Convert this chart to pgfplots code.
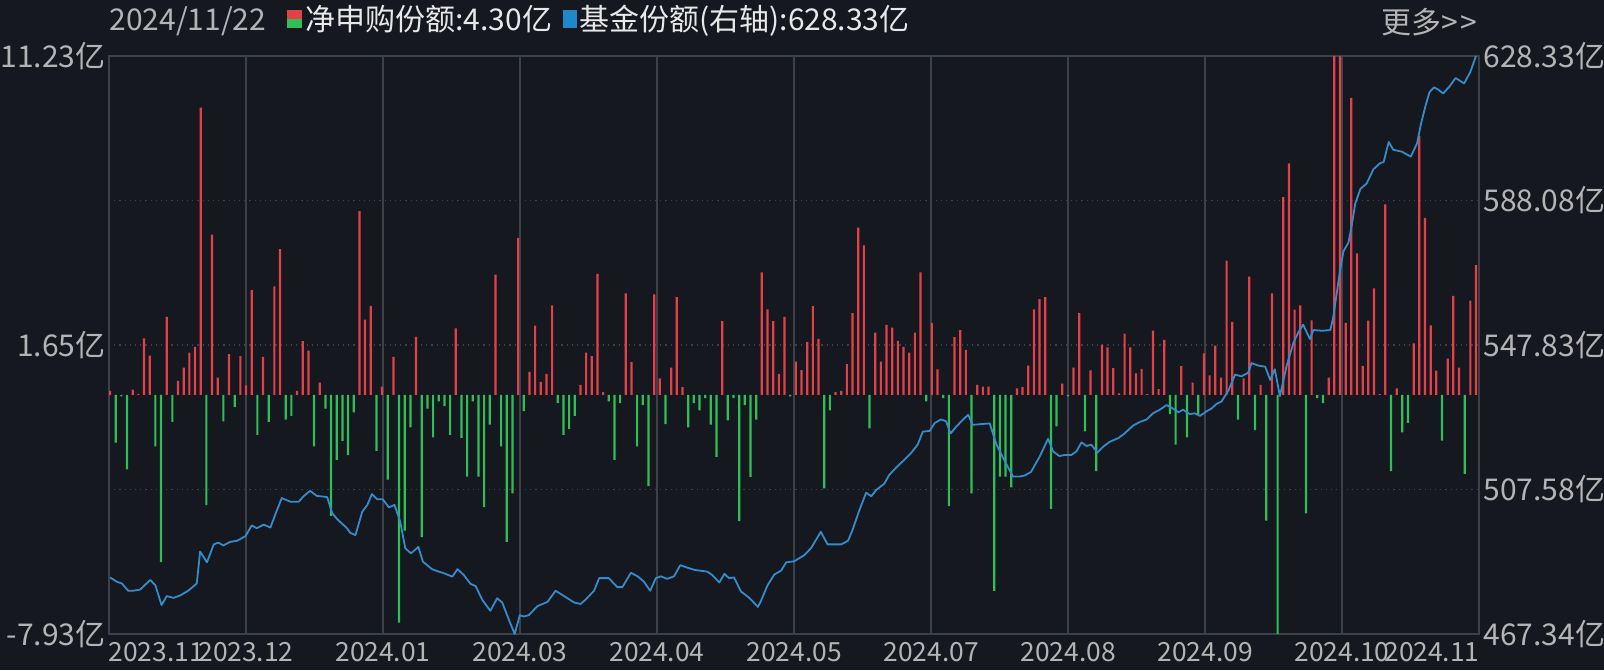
\documentclass[border=0pt]{standalone}
\usepackage{fontspec}
\setmainfont{Noto Sans CJK SC}
\usepackage{pgfplots}
\pgfplotsset{compat=1.18}

\definecolor{bg}{RGB}{21,24,30}
\definecolor{gridc}{RGB}{60,64,72}
\definecolor{upred}{RGB}{228,64,74}
\definecolor{dngreen}{RGB}{48,190,88}
\definecolor{lineblue}{RGB}{52,140,205}
\definecolor{legblue}{RGB}{30,136,205}
\definecolor{lbl}{RGB}{180,180,180}
\definecolor{ttl}{RGB}{232,232,232}

\newcommand\lblfont{\fontsize{15}{18}\selectfont}
\newcommand\datefont{\fontsize{13.2}{16}\selectfont}

\pgfplotsset{
  common/.style={
    scale only axis, width=685pt, height=289pt,
    at={(54.5pt,18pt)}, anchor=south west,
    xmin=-0.18, xmax=241.53,
    major tick length=0pt,
    yticklabel style={font=\lblfont},
  }
}

\begin{document}
\begin{tikzpicture}[x=1pt,y=1pt]
\fill[bg] (0,0) rectangle (802,335);
\useasboundingbox (0,0) rectangle (802,335);

% net subscription bars (left axis)
\begin{axis}[common,
  ymin=-7.93, ymax=11.23,
  axis line style={gridc, line width=0.6pt},
  xtick={23.99,48.16,72.33,96.50,120.68,144.85,169.02,193.19,217.36},
  xticklabels={2023.12,2024.01,2024.03,2024.04,2024.05,2024.07,2024.08,2024.09,2024.10},
  xticklabel style={text=lbl, anchor=north, inner sep=0pt, yshift=-4pt, font=\datefont},
  ytick={-7.93,-3.14,1.65,6.44,11.23},
  yticklabels={-7.93亿,{},1.65亿,{},11.23亿},
  yticklabel style={text=lbl, anchor=east, inner sep=0pt, xshift=-1.5pt},
  xmajorgrids, ymajorgrids,
  major x grid style={gridc, line width=0.6pt},
  major y grid style={gridc, line width=0.6pt, dotted},
]
\addplot[ybar, bar width=1.1pt, bar shift=0pt, fill=upred, draw=none] coordinates {
(0,0.13) (4,0.17) (5,0.03) (6,1.87) (7,1.30) (10,2.58) (12,0.46) (13,0.90)
(14,1.40) (15,1.59) (16,9.52) (18,5.31) (19,0.57) (21,1.35) (23,1.28) (24,0.31)
(25,3.48) (27,1.26) (29,3.59) (30,4.83) (33,0.13) (34,1.78) (35,1.46) (37,0.40)
(44,6.09) (45,2.49) (46,2.95) (48,0.27) (50,1.26) (54,1.92) (61,2.20) (68,3.98)
(72,5.20) (74,0.76) (75,2.29) (76,0.43) (77,0.69) (78,2.96) (83,0.33) (84,1.40)
(85,1.28) (86,4.01) (87,0.09) (91,3.36) (92,1.08) (96,3.33) (97,0.54) (99,0.90)
(100,3.24) (101,0.25) (108,2.44) (115,4.06) (116,2.83) (117,2.44) (118,0.69) (119,2.58)
(121,1.10) (122,0.82) (123,1.75) (124,2.94) (125,1.85) (128,0.09) (129,0.13) (130,1.02)
(131,2.71) (132,5.54) (133,4.95) (135,2.06) (136,1.10) (137,2.32) (138,2.23) (139,1.79)
(140,1.59) (141,1.40) (142,2.06) (143,4.06) (145,2.38) (146,0.84) (149,1.91) (150,2.14)
(151,1.49) (153,0.33) (154,0.27) (155,0.27) (160,0.21) (161,0.25) (162,0.97) (163,2.83)
(164,3.17) (165,3.24) (168,0.37) (170,0.90) (171,2.71) (173,0.81) (175,1.66) (176,1.57)
(177,0.88) (178,0.05) (179,2.03) (180,1.57) (181,0.71) (182,0.86) (183,0.02) (184,2.13)
(185,0.19) (186,1.82) (189,0.95) (191,0.40) (193,1.37) (194,0.64) (195,1.63) (196,0.57)
(197,4.45) (198,2.42) (200,0.54) (201,3.92) (203,0.33) (205,3.36) (207,6.55) (208,7.67)
(209,2.82) (210,2.96) (212,2.47) (215,0.57) (216,11.23) (217,11.23) (218,2.38) (219,9.84)
(220,4.69) (221,0.96) (222,2.46) (223,3.53) (224,0.02) (225,6.31) (227,0.21) (230,1.70)
(231,8.58) (232,5.86) (233,2.30) (234,0.80) (236,1.20) (237,3.28) (238,0.90) (240,3.12)
(241,4.30)
};
\addplot[ybar, bar width=1.1pt, bar shift=0pt, fill=dngreen, draw=none] coordinates {
(1,-1.59) (2,-0.05) (3,-2.47) (8,-1.71) (9,-5.55) (11,-0.90) (17,-3.66) (20,-0.88)
(22,-0.40) (26,-1.33) (28,-0.90) (31,-0.82) (32,-0.70) (36,-1.71) (38,-0.46) (39,-4.01)
(40,-2.16) (41,-1.53) (42,-2.00) (43,-0.58) (47,-1.86) (49,-2.81) (51,-7.55) (52,-4.50)
(53,-1.08) (55,-4.72) (56,-0.46) (57,-1.41) (58,-0.22) (59,-0.38) (60,-1.33) (62,-1.43)
(63,-2.71) (64,-0.22) (65,-2.71) (66,-3.72) (67,-0.99) (69,-1.71) (70,-4.88) (71,-3.27)
(73,-0.54) (79,-0.28) (80,-1.33) (81,-1.14) (82,-0.70) (88,-0.22) (89,-2.16) (90,-0.28)
(93,-1.71) (94,-0.34) (95,-3.03) (98,-0.97) (102,-1.08) (103,-0.28) (104,-0.52) (105,-0.11)
(106,-0.99) (107,-2.06) (109,-0.85) (110,-0.11) (111,-4.19) (112,-0.34) (113,-2.72) (114,-0.82)
(120,-0.05) (126,-3.10) (127,-0.52) (134,-1.11) (144,-0.22) (147,-0.11) (148,-3.69) (152,-3.27)
(156,-6.50) (157,-2.71) (158,-2.71) (159,-3.07) (166,-3.78) (167,-1.05) (169,-0.05) (172,-1.21)
(174,-2.53) (187,-0.64) (188,-1.65) (190,-1.41) (192,-0.64) (199,-0.82) (202,-1.17) (204,-4.17)
(206,-7.93) (211,-3.93) (213,-0.11) (214,-0.28) (226,-2.53) (228,-1.25) (229,-0.93) (235,-1.52)
(239,-2.62)
};
\end{axis}

% fund shares line (right axis)
\begin{axis}[common,
  ymin=467.34, ymax=628.33,
  axis x line=none, axis y line*=right,
  axis line style={draw=none},
  ytick={467.34,507.58,547.83,588.08,628.33},
  yticklabels={467.34亿,507.58亿,547.83亿,588.08亿,628.33亿},
  yticklabel style={text=lbl, anchor=west, inner sep=0pt, xshift=2pt},
]
\addplot[lineblue, line width=0.9pt, line join=round] coordinates {
(0,483.1) (1.2,481.9) (2.1,481.4) (3.2,479.4) (4.1,479.4) (5.3,479.7) (7.1,482.4) (8.0,480.9)
(9.1,475.4) (10.0,477.9) (11.2,477.4) (12.4,478.1) (13.8,479.4) (15.3,481.4) (15.9,490.3) (17.1,487.3)
(18.3,492.3) (19.1,492.8) (20.0,492.0) (21.2,493.0) (22.4,493.3) (23.9,494.6) (25.0,497.6) (25.9,496.8)
(27.1,497.8) (28.3,497.0) (29.2,500.8) (30.3,505.2) (31.8,504.2) (33.3,504.2) (34.2,505.8) (35.3,507.2)
(36.5,505.8) (38.3,505.5) (39.2,501.0) (40.1,499.3) (41.8,496.8) (42.4,495.5) (43.3,494.9) (44.5,501.4)
(45.4,503.3) (46.2,506.3) (47.1,504.9) (48.1,504.9) (49.2,502.6) (50.2,503.3) (51.2,498.6) (52.1,491.2)
(53.1,489.8) (54.4,491.6) (55.2,487.5) (56.8,485.4) (58.0,484.7) (58.7,484.4) (60.4,483.3) (61.3,485.4)
(62.4,483.8) (63.6,481.3) (64.5,480.7) (65.7,476.8) (67.1,473.8) (68.3,477.3) (69.2,476.1) (70.4,471.2)
(71.4,467.34) (72.3,472.6) (73.0,472.2) (73.9,472.6) (75.4,475.1) (77.2,476.3) (78.6,479.4) (80.1,477.9)
(81.9,476.1) (83.0,475.7) (83.9,476.9) (85.4,479.4) (86.3,482.9) (88.0,482.9) (89.5,480.4) (90.4,480.4)
(91.9,484.4) (93.1,483.4) (94.2,481.9) (95.3,479.4) (96.3,482.9) (97.2,483.4) (98.3,482.7) (99.5,483.4)
(100.6,486.5) (101.9,485.8) (103.1,485.2) (105.4,484.7) (106.3,483.7) (107.5,481.7) (108.4,484.1) (109.2,482.9)
(110.1,483.1) (111.3,479.2) (112.8,477.4) (114.3,474.9) (114.8,476.4) (116.0,480.9) (117.2,483.9) (118.4,485.0)
(119.3,487.3) (120.7,487.6) (122.5,489.3) (123.7,491.3) (125.4,495.8) (126.6,492.3) (127.8,492.3) (129.0,492.3)
(130.2,493.3) (131.0,496.3) (132.2,501.8) (133.4,506.7) (134.3,505.7) (135.2,507.5) (136.6,509.2) (137.5,511.7)
(138.7,513.7) (139.9,515.5) (141.3,517.7) (142.5,520.1) (143.4,523.7) (144.6,523.9) (145.5,526.1) (146.6,527.1)
(147.5,526.6) (148.3,523.2) (149.3,525.1) (150.5,527.1) (151.4,528.4) (152.2,525.6) (153.7,525.8) (155.2,526.0)
(156.4,520.1) (157.8,515.7) (159.3,511.2) (160.5,511.2) (161.4,511.5) (162.5,512.5) (164.0,516.7) (165.5,521.7)
(166.4,518.2) (167.5,516.9) (168.4,517.2) (169.6,517.2) (170.5,518.2) (171.4,520.7) (172.3,519.7) (173.1,520.1)
(174.2,517.9) (175.2,519.5) (176.4,520.9) (177.9,521.9) (179.0,523.2) (180.5,525.4) (181.7,526.4) (182.9,527.1)
(184.0,528.8) (185.2,529.8) (186.4,531.1) (187.3,530.4) (188.5,529.1) (189.3,529.8) (190.5,528.6) (191.4,528.8)
(192.3,528.1) (193.5,529.4) (194.3,530.1) (195.2,531.4) (196.1,532.1) (197.3,535.1) (198.5,539.6) (199.6,539.1)
(200.8,540.1) (201.4,542.8) (202.6,542.1) (203.8,541.8) (204.7,538.1) (205.5,541.1) (206.4,533.6) (207.6,542.1)
(208.8,548.5) (209.7,551.5) (210.5,553.5) (211.7,549.5) (212.3,552.0) (213.8,551.8) (215.3,552.0) (215.8,555.5)
(217.0,568.4) (217.6,573.9) (218.5,576.4) (219.1,581.4) (219.7,587.3) (220.6,591.3) (221.7,592.8) (222.9,596.8)
(224.1,598.5) (224.7,598.8) (225.6,604.4) (226.4,602.2) (227.9,601.7) (229.5,600.3) (230.6,604.0) (231.3,609.5)
(232.1,614.5) (232.8,618.3) (233.6,619.6) (234.3,619.0) (235.2,617.9) (236.3,619.8) (237.4,622.2) (238.9,620.7)
(240.0,623.9) (241.0,628.33)
};
\end{axis}

% end labels of the date axis
\node[anchor=north west, inner sep=0pt, text=lbl, font=\datefont] at (54,14) {2023.11};
\node[anchor=north east, inner sep=0pt, text=lbl, font=\datefont] at (740,14) {2024.11};

% header
\node[anchor=base west, inner sep=0pt, text=lbl, font=\lblfont] at (54.5,319.7) {2024/11/22};
\fill[upred] (143.5,325.5) rectangle (151,330);
\fill[dngreen] (143.5,321) rectangle (151,325.5);
\node[anchor=base west, inner sep=0pt, text=ttl, font=\lblfont] at (152.5,319.7) {净申购份额:4.30亿};
\fill[legblue] (281.5,321) rectangle (288.5,330);
\node[anchor=base west, inner sep=0pt, text=ttl, font=\lblfont] at (289.5,319.7) {基金份额(右轴):628.33亿};
\node[anchor=base east, inner sep=0pt, text=lbl, font=\lblfont] at (739,318) {更多>\kern1.5pt>};
\end{tikzpicture}
\end{document}
